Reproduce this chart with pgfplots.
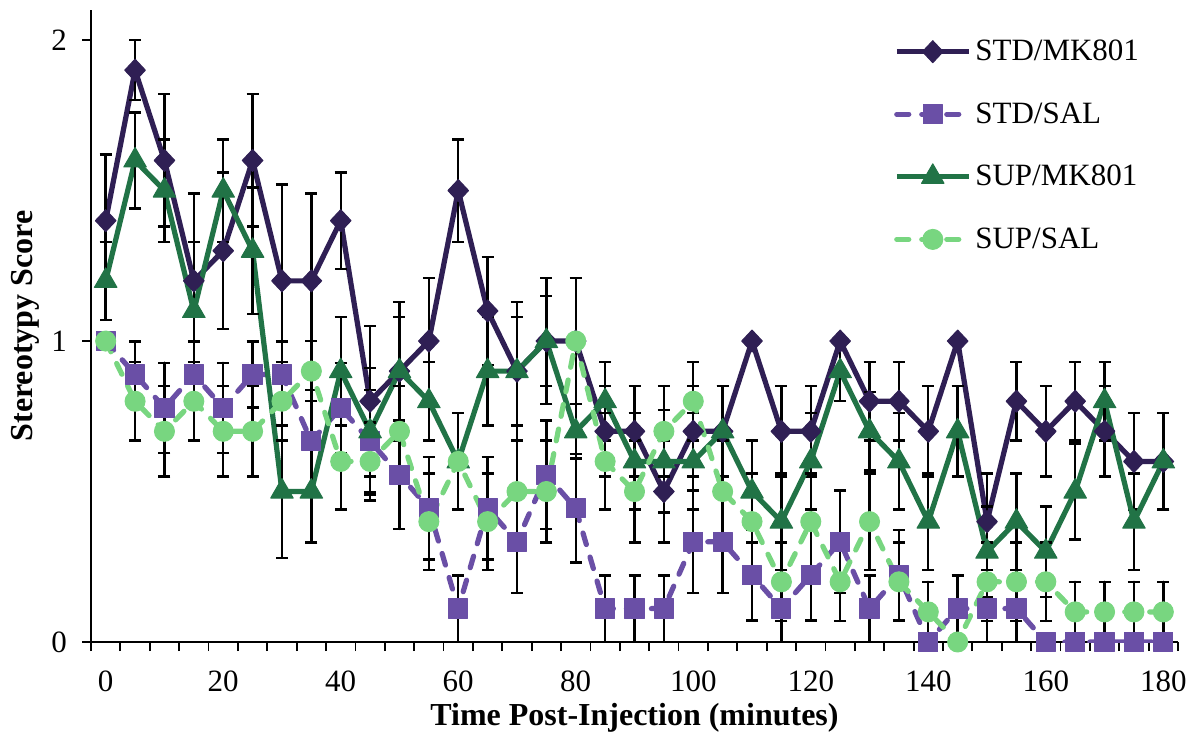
\documentclass[border=0pt]{standalone}
\usepackage{fontspec}
\setmainfont{Liberation Serif}
\usepackage{pgfplots}
\usepackage{pgfplotstable}
\pgfplotsset{compat=1.18}
\definecolor{stdmk}{RGB}{47,31,84}
\definecolor{stdsal}{RGB}{106,79,166}
\definecolor{supmk}{RGB}{33,115,70}
\definecolor{supsal}{RGB}{120,214,128}

\pgfplotstableread{
t   a    ae    b      be    c    ce    d    de
0   1.4  0.22  1.0    0     1.2  0.13  1.0  0
5   1.9  0.10  0.889  0.11  1.6  0.16  0.8  0.13
10  1.6  0.22  0.778  0.15  1.5  0.17  0.7  0.15
15  1.2  0.29  0.889  0.11  1.1  0.23  0.8  0.13
20  1.3  0.26  0.778  0.15  1.5  0.17  0.7  0.15
25  1.6  0.22  0.889  0.11  1.3  0.21  0.7  0.15
30  1.2  0.32  0.889  0.11  0.5  0.22  0.8  0.13
35  1.2  0.29  0.667  0.17  0.5  0.17  0.9  0.10
40  1.4  0.16  0.778  0.15  0.9  0.18  0.6  0.16
45  0.8  0.25  0.667  0.17  0.7  0.21  0.6  0.13
50  0.9  0.23  0.556  0.18  0.9  0.18  0.7  0.15
55  1.0  0.21  0.444  0.17  0.8  0.13  0.4  0.16
60  1.5  0.17  0.111  0.11  0.6  0.16  0.6  0.16
65  1.1  0.18  0.444  0.17  0.9  0.18  0.4  0.16
70  0.9  0.23  0.333  0.17  0.9  0.18  0.5  0.17
75  1.0  0.21  0.556  0.18  1.0  0.15  0.5  0.17
80  1.0  0.21  0.444  0.18  0.7  0.09  1.0  0
85  0.7  0.15  0.111  0.11  0.8  0.13  0.6  0.16
90  0.7  0.15  0.111  0.11  0.6  0.16  0.5  0.17
95  0.5  0.17  0.111  0.11  0.6  0.17  0.7  0.15
100 0.7  0.15  0.333  0.17  0.6  0.16  0.8  0.13
105 0.7  0.15  0.333  0.17  0.7  0.15  0.5  0.17
110 1.0  0     0.222  0.15  0.5  0.17  0.4  0.16
115 0.7  0.15  0.111  0.11  0.4  0.16  0.2  0.13
120 0.7  0.15  0.222  0.15  0.6  0.16  0.4  0.16
125 1.0  0     0.333  0.17  0.9  0.10  0.2  0.13
130 0.8  0.13  0.111  0.11  0.7  0.13  0.4  0.16
135 0.8  0.13  0.222  0.15  0.6  0.16  0.2  0.13
140 0.7  0.15  0      0     0.4  0.16  0.1  0.10
145 1.0  0     0.111  0.11  0.7  0.15  0.0  0
150 0.4  0.16  0.111  0.11  0.3  0.15  0.2  0.13
155 0.8  0.13  0.111  0.11  0.4  0.16  0.2  0.13
160 0.7  0.15  0      0     0.3  0.15  0.2  0.13
165 0.8  0.13  0      0     0.5  0.16  0.1  0.10
170 0.7  0.15  0      0     0.8  0.13  0.1  0.10
175 0.6  0.16  0      0     0.4  0.16  0.1  0.10
180 0.6  0.16  0      0     0.6  0.16  0.1  0.10
}\data

\begin{document}
\begin{tikzpicture}
\begin{axis}[
  scale only axis, width=543.5pt, height=316pt,
  xmin=-2.5, xmax=182.5, ymin=0, ymax=2.1,
  axis x line*=bottom, axis y line*=left,
  axis line style={-, line width=0.9pt, black},
  xtick={-2.5,2.5,...,182.5}, xticklabels={},
  extra x ticks={0,20,...,180},
  extra x tick style={major tick length=0pt, tick label style={yshift=-11pt}},
  ytick={0,1,2},
  yticklabel style={xshift=-4pt},
  tick align=outside,
  major tick length=4.5pt,
  tick style={line width=0.9pt, black},
  /pgf/number format/assume math mode=true,
  ticklabel style={font=\fontsize{15.5}{18}\selectfont},
  xlabel={\textbf{Time Post-Injection (minutes)}},
  ylabel={\textbf{Stereotypy Score}},
  label style={font=\fontsize{16}{19}\selectfont},
  xlabel style={at={(axis description cs:0.5,-0.1203)}, anchor=center},
  ylabel style={at={(axis description cs:-0.0607,0.5)}, anchor=center},
  legend style={at={(0.733,0.966)}, anchor=north west, draw=none, fill=none,
    font=\fontsize{15.5}{18}\selectfont, row sep=15.5pt, cells={anchor=west}},
  legend image code/.code={\draw[mark repeat=2,mark phase=2] plot coordinates {(0pt,0pt) (18pt,0pt) (36pt,0pt)};},
  every axis plot/.append style={line width=2.6pt, line join=round},
]
\addplot[stdmk, mark=diamond*, mark size=5.5pt, mark options={solid, xscale=1.25, line width=0.5pt},
  error bars/.cd, y dir=both, y explicit,
  error bar style={black, line width=1.2pt, solid},
  error mark options={rotate=90, black, line width=1.2pt, mark size=3pt}]
  table[x=t, y=a, y error=ae]{\data};
\addlegendentry{STD/MK801}
\addplot[stdsal, dash pattern=on 6pt off 6.5pt, line cap=round, mark=square*, mark size=4.8pt, mark options={solid, line width=0.5pt},
  error bars/.cd, y dir=both, y explicit,
  error bar style={black, line width=1.2pt, solid},
  error mark options={rotate=90, black, line width=1.2pt, mark size=3pt}]
  table[x=t, y=b, y error=be]{\data};
\addlegendentry{STD/SAL}
\addplot[supmk, mark=triangle*, mark size=6.5pt, mark options={solid, line width=0.5pt},
  error bars/.cd, y dir=both, y explicit,
  error bar style={black, line width=1.2pt, solid},
  error mark options={rotate=90, black, line width=1.2pt, mark size=3pt}]
  table[x=t, y=c, y error=ce]{\data};
\addlegendentry{SUP/MK801}
\addplot[supsal, dash pattern=on 6pt off 6.5pt, line cap=round, mark=*, mark size=5pt, mark options={solid, line width=0.5pt},
  error bars/.cd, y dir=both, y explicit,
  error bar style={black, line width=1.2pt, solid},
  error mark options={rotate=90, black, line width=1.2pt, mark size=3pt}]
  table[x=t, y=d, y error=de]{\data};
\addlegendentry{SUP/SAL}
\end{axis}
\path ([shift={(-45.5pt,-51pt)}]current axis.south west) rectangle ([shift={(8pt,5pt)}]current axis.north east);
\end{tikzpicture}
\end{document}
